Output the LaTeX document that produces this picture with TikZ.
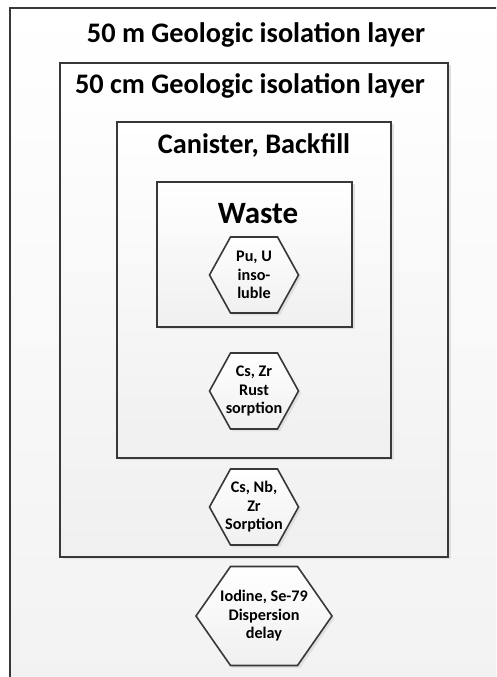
\documentclass[tikz,border=0pt]{standalone}
\usepackage{fontspec}
\setmainfont{Carlito}
\usetikzlibrary{shadows}

\tikzset{
	layer/.style={draw=black!78, line width=1.9pt, top color=white, bottom color=black!6,
		drop shadow={shadow xshift=2.5pt, shadow yshift=-2.5pt, fill=black!12, opacity=1}},
	hexa/.style={layer, line width=1.6pt, line join=miter},
	title/.style={anchor=base, font=\bfseries\fontsize{28.3}{30}\selectfont},
	hextext/.style={align=center, inner sep=0pt, font=\bfseries\fontsize{16.2}{18.5}\selectfont}
}

\begin{document}
\begin{tikzpicture}[x=1pt, y=1pt]
	\useasboundingbox (0,0) rectangle (496,677);
	\fill[white] (0,0) rectangle (496,677);
	\clip (0,0) rectangle (496,677);
	
	% nested layers
	\node[layer, minimum width=600pt, minimum height=800pt] (L1) at (310,269) {};
	\node[layer, minimum width=388pt, minimum height=494pt] (L2) at (254,367) {};
	\node[layer, minimum width=274pt, minimum height=336pt] (L3) at (254,387) {};
	\node[layer, minimum width=195pt, minimum height=145pt] (L4) at (254.5,422.5) {};
	
	\node[title] (T1) at (256,634) {50 m Geologic isolation layer};
	\node[title] (T2) at (250,583) {50 cm Geologic isolation layer};
	\node[title] (T3) at (254,523) {Canister, Backfill};
	\node[title, font=\bfseries\fontsize{31}{34}\selectfont] (T4) at (258,453) {Waste};
	
	% hexagons
	\coordinate (H1c) at (254,402);
	\coordinate[below of=H1c, node distance=116pt] (H2c);
	\coordinate[below of=H2c, node distance=116pt] (H3c);
	\coordinate (H4c) at (264,61);
	
	\draw[hexa] (H1c) ++(-44.5,0) -- ++(21,38) -- ++(47,0) -- ++(21,-38) -- ++(-21,-38) -- ++(-47,0) -- cycle;
	\draw[hexa] (H2c) ++(-44.5,0) -- ++(21,38) -- ++(47,0) -- ++(21,-38) -- ++(-21,-38) -- ++(-47,0) -- cycle;
	\draw[hexa] (H3c) ++(-44.5,0) -- ++(21,38) -- ++(47,0) -- ++(21,-38) -- ++(-21,-38) -- ++(-47,0) -- cycle;
	\draw[hexa] (H4c) ++(-68,0) -- ++(34.5,49.5) -- ++(67,0) -- ++(34.5,-49.5) -- ++(-34.5,-49.5) -- ++(-67,0) -- cycle;
	
	\node[hextext] (H1) at (H1c) {Pu, U\\inso-\\luble};
	\node[hextext] (H2) at (H2c) {Cs, Zr\\Rust\\sorption};
	\node[hextext] (H3) at (H3c) {Cs, Nb,\\Zr\\Sorption};
	\node[hextext] (H4) at (H4c) {Iodine, Se-79\\Dispersion\\delay};
	
\end{tikzpicture}
\end{document}
